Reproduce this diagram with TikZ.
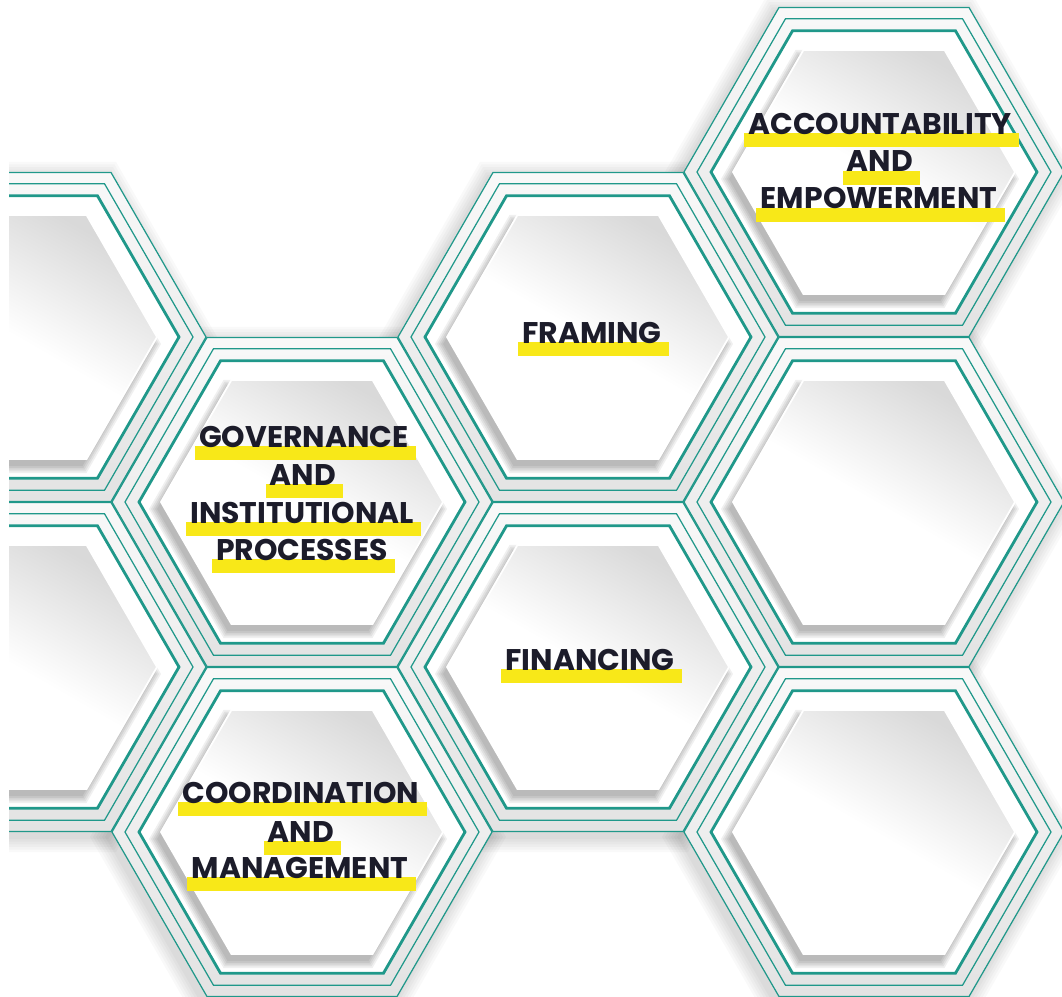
\documentclass[tikz,border=0pt]{standalone}
\usepackage{fontspec}
\newfontfamily\pop{Poppins}
\usepackage{tikz}
\usetikzlibrary{calc}

\definecolor{hexteal}{RGB}{32,152,138}
\definecolor{hexink}{RGB}{28,28,42}
\definecolor{hexyellow}{RGB}{248,232,24}
\pgfdeclarelayer{front}
\pgfsetlayers{main,front}
\newcommand\hexa[2]{(#1) ++(0:#2) -- ++(120:#2) -- ++(180:#2) -- ++(240:#2) -- ++(300:#2) -- ++(0:#2) -- cycle}

\begin{document}
\begin{tikzpicture}[x=0.02cm,y=-0.02cm,
  ring/.style={draw=hexteal, line width=0.7pt},
  thickring/.style={draw=hexteal, line width=1.6pt},
  lbl/.style={font=\pop\bfseries\fontsize{17}{20}\selectfont, text=hexink, inner sep=0pt, anchor=base}]
\useasboundingbox (0,0) rectangle (1062,997);
\fill[white] (0,0) rectangle (1062,997);
\clip (9,0) rectangle (1062,997);
\def\cells{16/337,16/667,302/502,302/832,588/337,588/667,874/172,874/502,874/832}
\foreach \cx/\cy in \cells
  \foreach \k in {1,...,6}
    \fill[black, opacity=0.025] \hexa{\cx-4,\cy+5}{190+3*\k};
\foreach \cx/\cy in \cells {
  \shade[top color=gray!5, bottom color=gray!22] \hexa{\cx,\cy}{190};
  \fill[white] \hexa{\cx,\cy}{163};
  \foreach \k in {0,...,4}
    \fill[black, opacity=0.06] \hexa{\cx-4,\cy+7}{141+2*\k};
  \shade[top color=gray!30, bottom color=white, middle color=white, shading angle=-30] \hexa{\cx,\cy}{141};
  \draw[white, line width=1pt] \hexa{\cx,\cy}{141};
}
\foreach \cx/\cy in \cells {
  \draw[ring] \hexa{\cx,\cy}{190};
  \draw[ring] \hexa{\cx,\cy}{177};
  \draw[thickring] \hexa{\cx,\cy}{163};
}
\begin{pgfonlayer}{front}
\node[lbl] (acc1) at (880,134) {ACCOUNTABILITY};
\node[lbl] (acc2) at (880,172) {AND};
\node[lbl] (acc3) at (879,209) {EMPOWERMENT};
\node[lbl] (fram) at (592,343) {FRAMING};
\node[lbl] (gov1) at (304,447) {GOVERNANCE};
\node[lbl] (gov2) at (303,485) {AND};
\node[lbl] (gov3) at (302,523) {INSTITUTIONAL};
\node[lbl] (gov4) at (302,560) {PROCESSES};
\node[lbl] (fin) at (590,670) {FINANCING};
\node[lbl] (coo1) at (301,803) {COORDINATION};
\node[lbl] (coo2) at (301,842) {AND};
\node[lbl] (coo3) at (300,878) {MANAGEMENT};
\end{pgfonlayer}
\foreach \n in {acc1,acc2,acc3,fram,gov1,gov2,gov3,gov4,fin,coo1,coo2,coo3}
  \fill[hexyellow] ($(\n.base west)+(-4,-1)$) rectangle ($(\n.base east)+(7,13)$);
\end{tikzpicture}
\end{document}
